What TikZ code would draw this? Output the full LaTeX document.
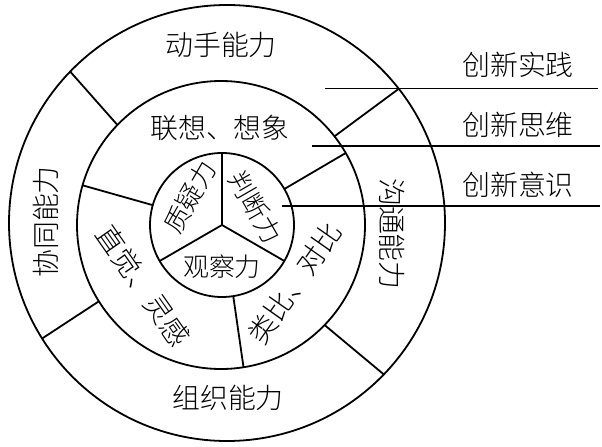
\documentclass[tikz,border=0pt]{standalone}
\usepackage{fontspec}
\newfontfamily\cjk{Noto Sans CJK SC Light}
\usetikzlibrary{positioning}
\tikzset{
 ring/.style={circle,draw=black,line width=1.8bp,inner sep=0pt,outer sep=0pt},
 cut/.style={draw=black,line width=1.8bp},
 big/.style={font=\cjk\fontsize{28}{28}\selectfont,inner sep=0pt},
 small/.style={font=\cjk\fontsize{26}{26}\selectfont,inner sep=0pt}
}

\begin{document}
\begin{tikzpicture}[x=1bp,y=-1bp]
\useasboundingbox (0,0) rectangle (602,447);
\node[ring,minimum size=436bp] (outer) at (227,223) {};
\node[ring,minimum size=288bp] (mid) at (221,225) {};
\node[ring,minimum size=144bp] (core) at (222,225) {};
% spokes of the three rings
\foreach \a in {90,210,330} \draw[cut] (core.center)--(core.\a);
\foreach \a in {30,164,279} \draw[cut] (core.\a)--(mid.\a);
\foreach \a in {38,136,212,316} \draw[cut] (mid.\a)--(outer.\a);
% leader lines on the right
\coordinate (s1) at (325,88.5);
\coordinate (e1) at (598,88.5);
\coordinate (s2) at (312,146);
\coordinate (e2) at (600,146);
\coordinate (s3) at (282,206);
\coordinate (e3) at (600,206);
\foreach \i in {1,2,3} \draw[cut] (s\i)--(e\i);
\node[big] (shijian) at (518,65) {创新实践};
\node[big] (siwei) at (518,125) {创新思维};
\node[big] (yishi) at (518,185) {创新意识};
% outer ring
\node[big] (dongshou) at (221,45) {动手能力};
\node[big,rotate=90] (xietong) at (46,222) {协同能力};
\node[big] (zuzhi) at (228,398) {组织能力};
\node[big,rotate=-90] (goutong) at (392,234) {沟通能力};
% middle ring
\node[big] (lianxiang) at (220,128) {联想、想象};
\node[big,rotate=-55] (zhijue) at (143,286) {直觉、灵感};
\node[big,rotate=55] (leibi) at (295,283) {类比、对比};
% core
\node[small,rotate=60] (zhiyi) at (190,197) {质疑力};
\node[small,rotate=-60] (panduan) at (255,207) {判断力};
\node[small] (guancha) at (222,267) {观察力};
\end{tikzpicture}
\end{document}
